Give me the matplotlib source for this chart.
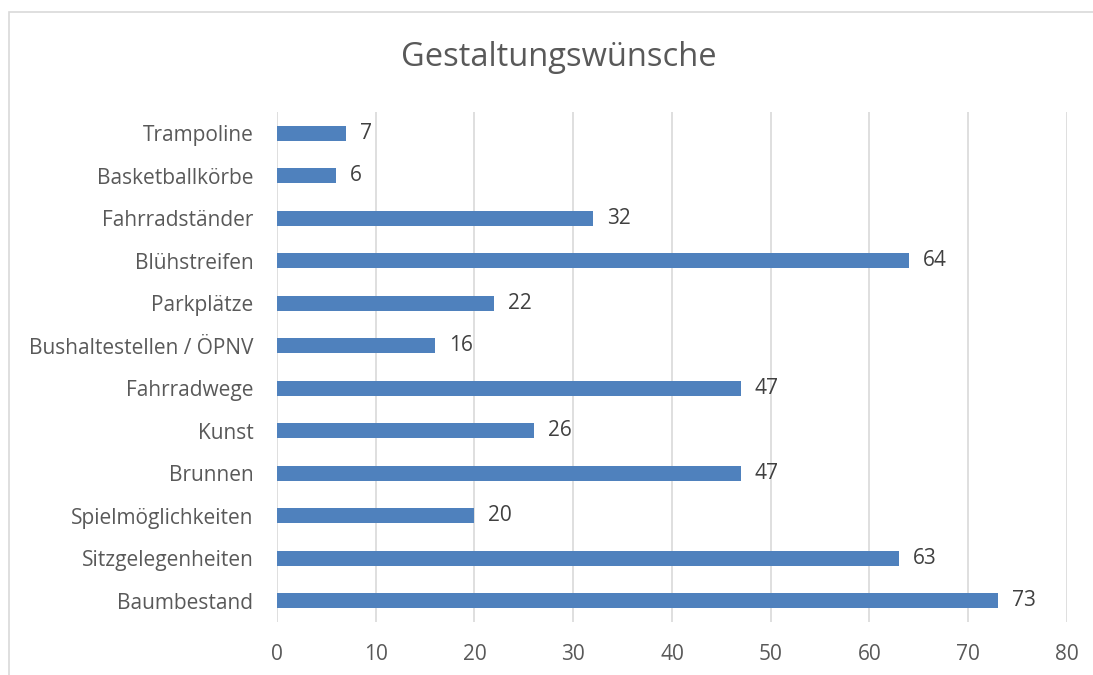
import matplotlib.pyplot as plt
from matplotlib.patches import Rectangle

categories = ["Baumbestand", "Sitzgelegenheiten", "Spielmöglichkeiten", "Brunnen",
              "Kunst", "Fahrradwege", "Bushaltestellen / ÖPNV", "Parkplätze",
              "Blühstreifen", "Fahrradständer", "Basketballkörbe", "Trampoline"]
values = [73, 63, 20, 47, 26, 47, 16, 22, 64, 32, 6, 7]
xticks = [0, 10, 20, 30, 40, 50, 60, 70, 80]

text_col = "#595959"
plt.rcParams['font.family'] = ['Open Sans', 'DejaVu Sans']

fig = plt.figure(figsize=(10.93, 6.75), dpi=100)
ax = fig.add_axes([0.2534, 0.0785, 0.7228, 0.7555])

fig.patches.append(Rectangle((9 / 1093, -0.1), 1.0, 1.0 - 12 / 675 + 0.1,
                             transform=fig.transFigure, fill=False,
                             edgecolor="#D9D9D9", linewidth=1.2))

ypos = range(len(categories))
ax.barh(ypos, values, height=0.36, color="#4F81BD", zorder=3)
for y, v in zip(ypos, values):
    ax.text(v + 1.4, y, str(v), va="center", ha="left", fontsize=15, color="#404040")

ax.set_xlim(0, 80)
ax.set_ylim(-0.5, len(categories) - 0.5)
ax.set_xticks(xticks)
ax.set_yticks(list(ypos))
ax.set_yticklabels(categories)
ax.tick_params(axis="both", length=0, labelsize=15, colors=text_col)
ax.tick_params(axis="x", pad=16)
ax.tick_params(axis="y", pad=17)
ax.grid(axis="x", color="#D9D9D9", linewidth=1.2, zorder=0)
for s in ax.spines.values():
    s.set_visible(False)

fig.text(559 / 1093, 1 - 57 / 675, "Gestaltungswünsche", ha="center", va="center",
         fontsize=23.5, color=text_col)

fig.savefig("out.png", dpi=100)
